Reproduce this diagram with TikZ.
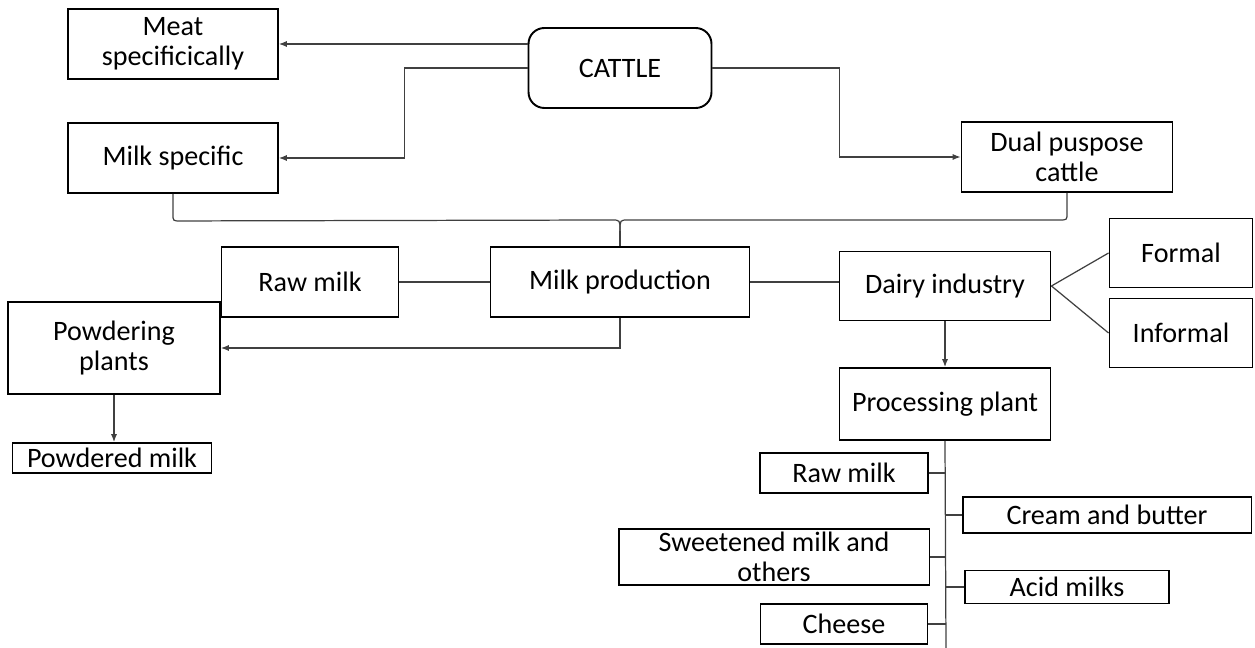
\documentclass[tikz,border=0pt]{standalone}
\usepackage{fontspec}
\setmainfont{Carlito}
\usetikzlibrary{arrows.meta}
\begin{document}
\begin{tikzpicture}[x=0.02cm, y=-0.02cm,
        box/.style={draw, line width=1.1pt, align=center, inner sep=0pt,
            font=\fontsize{16}{16.8}\selectfont},
        link/.style={draw=black!75, line width=0.7pt},
        arr/.style={link, -{Latex[length=4.5pt, width=3.5pt]}}]
        \useasboundingbox (0,0) rectangle (1255,648);
        \node[box, rounded corners=9pt, minimum width=3.66cm, minimum height=1.6cm] (cattle) at (620,68) {CATTLE};
        \node[box, minimum width=4.2cm, minimum height=1.4cm] (meat) at (173,44) {Meat\\specificically};
        \node[box, minimum width=4.2cm, minimum height=1.4cm] (milkspec) at (173,158) {Milk specific};
        \node[box, minimum width=4.22cm, minimum height=1.4cm] (dual) at (1067,157) {Dual puspose\\cattle};
        \node[box, minimum width=3.54cm, minimum height=1.4cm] (rawmilk) at (310,282) {Raw milk};
        \node[box, minimum width=5.18cm, minimum height=1.4cm] (milkprod) at (620,282) {Milk production};
        \node[box, minimum width=4.22cm, minimum height=1.38cm] (dairy) at (945,286) {Dairy industry};
        \node[box, minimum width=2.86cm, minimum height=1.38cm] (formal) at (1181,253) {Formal};
        \node[box, minimum width=2.86cm, minimum height=1.38cm] (informal) at (1181,333) {Informal};
        \node[box, minimum width=4.24cm, minimum height=1.84cm] (powdering) at (114,348) {Powdering\\plants};
        \node[box, minimum width=3.98cm, minimum height=0.6cm] (powdered) at (112,458) {Powdered milk};
        \node[box, minimum width=4.22cm, minimum height=1.44cm] (procplant) at (945,404) {Processing plant};
        \node[box, minimum width=3.36cm, minimum height=0.8cm] (raw2) at (844,473) {Raw milk};
        \node[box, minimum width=5.78cm, minimum height=0.72cm] (cream) at (1107,515) {Cream and butter};
        \node[box, minimum width=6.22cm, minimum height=1.12cm] (sweet) at (774,557) {Sweetened milk and\\others};
        \node[box, minimum width=4.08cm, minimum height=0.66cm] (acid) at (1067,587) {Acid milks};
        \node[box, minimum width=3.34cm, minimum height=0.8cm] (cheese) at (844,624) {Cheese};
        \coordinate (join) at (620,231);
        \coordinate (spineend) at (946,648);

        \draw[arr] (cattle.west |- meat.east) -- (meat.east);
        \draw[arr] (cattle.west) -- ++(-123,0) |- (milkspec.east);
        \draw[arr] (cattle.east) -- ++(127,0) |- (dual.west);
        \draw[link] (milkspec.south) -- ++(0,20) .. controls ++(0,7) .. ++(7,7) -- (612,220) .. controls (620,220) .. (join);
        \draw[link] (dual.south) -- ++(0,20) .. controls ++(0,7) .. ++(-7,7) -- (628,220) .. controls (620,220) .. (join);
        \draw[link] (join) -- (milkprod.north);
        \draw[link] (rawmilk) -- (milkprod);
        \draw[link] (milkprod.east) -- (milkprod.east -| dairy.west);
        \draw[link] (dairy.east) -- (formal.west);
        \draw[link] (dairy.east) -- (informal.west);
        \draw[arr] (dairy) -- (procplant);
        \draw[arr] (milkprod.south) |- (powdering.east);
        \draw[arr] (powdering.south) -- (powdering.south |- powdered.north);
        \draw[link] (procplant.south) -- (spineend);
        \draw[link] (raw2.east) -- (raw2.east -| spineend);
        \draw[link] (cream.west) -- (cream.west -| spineend);
        \draw[link] (sweet.east) -- (sweet.east -| spineend);
        \draw[link] (acid.west) -- (acid.west -| spineend);
        \draw[link] (cheese.east) -- (cheese.east -| spineend);
    \end{tikzpicture}
\end{document}
